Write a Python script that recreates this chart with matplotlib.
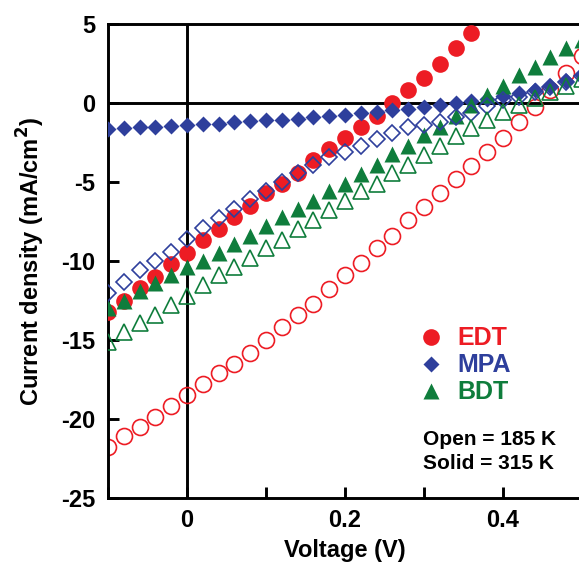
import matplotlib
matplotlib.use("Agg")
import matplotlib.pyplot as plt
from matplotlib.lines import Line2D
import numpy as np

plt.rcParams.update({"font.family": ["Liberation Sans", "DejaVu Sans"],
                     "font.weight": "bold", "axes.labelweight": "bold",
                     "axes.unicode_minus": False})

RED = "#ED1C24"
BLUE = "#2E3F9C"
GREEN = "#0F7D3C"

# voltage grid (V), 0.02 V steps
voltage = np.round(np.arange(-0.10, 0.5001, 0.02), 2)

# current density (mA/cm^2)
edt_185 = [-21.8, -21.1, -20.5, -19.9, -19.2, -18.5, -17.8, -17.1, -16.5, -15.8,
           -15.0, -14.2, -13.4, -12.7, -11.8, -10.9, -10.1, -9.2, -8.4, -7.4,
           -6.6, -5.7, -4.8, -4.0, -3.1, -2.2, -1.2, -0.25, 0.8, 1.9, 3.0]
edt_315 = [-13.2, -12.5, -11.7, -11.0, -10.2, -9.5, -8.7, -8.0, -7.2, -6.5,
           -5.7, -5.1, -4.4, -3.6, -2.9, -2.2, -1.5, -0.8, 0.0, 0.8,
           1.6, 2.5, 3.5, 4.4]
mpa_185 = [-12.0, -11.3, -10.6, -10.0, -9.4, -8.6, -7.9, -7.3, -6.7, -6.1,
           -5.6, -5.0, -4.4, -3.9, -3.4, -3.1, -2.7, -2.3, -1.9, -1.5,
           -1.4, -1.2, -0.9, -0.65, -0.2, 0.2, 0.4, 0.7, 1.0, 1.3, 1.7]
mpa_315 = [-1.65, -1.6, -1.55, -1.5, -1.45, -1.4, -1.35, -1.3, -1.2, -1.15,
           -1.1, -1.05, -1.0, -0.9, -0.85, -0.75, -0.65, -0.55, -0.45, -0.35,
           -0.25, -0.1, 0.0, 0.1, 0.25, 0.45, 0.65, 0.85, 1.1, 1.4, 1.8]
bdt_185 = [-15.1, -14.5, -13.9, -13.4, -12.8, -12.2, -11.5, -10.9, -10.4, -9.8,
           -9.2, -8.7, -8.0, -7.4, -6.8, -6.2, -5.6, -5.1, -4.4, -3.9,
           -3.3, -2.7, -2.1, -1.6, -1.1, -0.6, -0.1, 0.3, 0.7, 1.1, 1.5]
bdt_315 = [-13.0, -12.5, -11.9, -11.4, -10.9, -10.4, -10.0, -9.5, -8.9, -8.4,
           -7.8, -7.2, -6.7, -6.2, -5.6, -5.1, -4.5, -3.9, -3.2, -2.7,
           -2.0, -1.5, -0.8, -0.1, 0.5, 1.1, 1.8, 2.3, 2.9, 3.5, 4.0]

fig = plt.figure(figsize=(5.79, 5.63), dpi=100)
ax = fig.add_axes([108 / 579, 1 - 498 / 563, 474 / 579, 474 / 563])

ax.axhline(0, color="k", lw=2.1, zorder=1)
ax.axvline(0, color="k", lw=2.1, zorder=1)

ax.plot(voltage, edt_185, "o", ms=11.5, mfc="none", mec=RED, mew=1.2, zorder=2)
ax.plot(voltage[:len(edt_315)], edt_315, "o", ms=12, color=RED, mec="none", zorder=3)
ax.plot(voltage, mpa_315, "D", ms=8.3, color=BLUE, mec="none", zorder=4)
ax.plot(voltage, bdt_315, "^", ms=11.5, color=GREEN, mec="none", zorder=5)
ax.plot(voltage, mpa_185, "D", ms=8, mfc="none", mec=BLUE, mew=1.2, zorder=6)
ax.plot(voltage, bdt_185, "^", ms=11.5, mfc="none", mec=GREEN, mew=1.2, zorder=6)

ax.set_xlim(-0.1, 0.5)
ax.set_ylim(-25, 5)
ax.set_xticks([-0.1, 0, 0.1, 0.2, 0.3, 0.4, 0.5])
ax.set_xticklabels(["", "0", "", "0.2", "", "0.4", ""])
ax.set_yticks(np.arange(-25, 6, 5))
ax.tick_params(direction="in", length=8, width=2.1, labelsize=17, pad=8)
ax.tick_params(axis="y", pad=9)
for sp in ax.spines.values():
    sp.set_linewidth(2.1)

ax.set_xlabel("Voltage (V)", fontsize=17, labelpad=5)
ax.set_ylabel("Current density (mA/cm$^\\mathbf{2}$)", fontsize=17, labelpad=10)

handles = [Line2D([], [], ls="none", marker="o", ms=12, color=RED, mec="none"),
           Line2D([], [], ls="none", marker="D", ms=8.3, color=BLUE, mec="none"),
           Line2D([], [], ls="none", marker="^", ms=11.5, color=GREEN, mec="none")]
leg = ax.legend(handles, ["EDT", "MPA", "BDT"], loc="upper left",
                bbox_to_anchor=(0.635, 0.383), frameon=False, handlelength=1.0,
                handletextpad=0.55, labelspacing=0.12, borderaxespad=0.0,
                prop={"size": 18, "weight": "bold"})
for txt, c in zip(leg.get_texts(), [RED, BLUE, GREEN]):
    txt.set_color(c)

ax.text(0.665, 0.098, "Open = 185 K\nSolid = 315 K", transform=ax.transAxes,
        fontsize=15, fontweight="bold", va="center", ha="left", linespacing=1.3)

fig.savefig("out.png", dpi=100)
